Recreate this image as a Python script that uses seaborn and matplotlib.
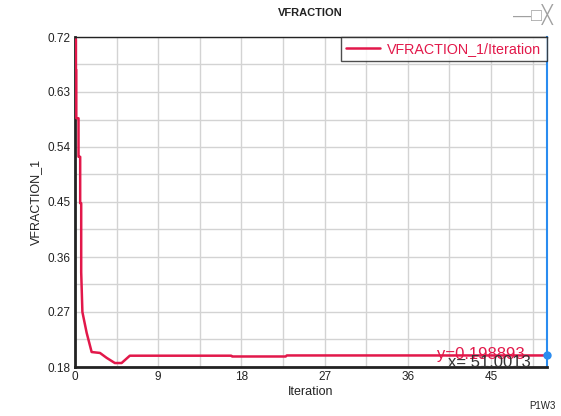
import matplotlib
matplotlib.use("Agg")
import matplotlib.pyplot as plt
import seaborn as sns
import pandas as pd
from matplotlib.ticker import MultipleLocator

# data
iteration = [0.10, 0.10, 0.14, 0.14, 0.38, 0.38, 0.56, 0.56, 0.67, 0.67, 0.80,
             1.26, 1.80, 2.70, 3.42, 4.31, 5.04, 5.93, 16.9, 17.0, 22.8, 22.9, 51.0013]
vfraction = [0.716, 0.666, 0.666, 0.587, 0.587, 0.524, 0.524, 0.448, 0.448, 0.335, 0.270,
             0.236, 0.2045, 0.203, 0.195, 0.1865, 0.1865, 0.1985, 0.1985, 0.1972, 0.1972,
             0.198893, 0.198893]
y_ticks = [0.18, 0.27, 0.36, 0.45, 0.54, 0.63, 0.72]
x_ticks = [0, 9, 18, 27, 36, 45]
cursor_x = 51.0013
cursor_y = 0.198893

df = pd.DataFrame({"Iteration": iteration, "VFRACTION_1": vfraction})

sns.set_style("white")
plt.rcParams["font.family"] = ["Liberation Sans", "DejaVu Sans"]

fig = plt.figure(figsize=(5.61, 4.16), dpi=100)
ax = fig.add_axes([75 / 561, 1 - 367 / 416, (546.5 - 75) / 561, (367 - 37) / 416])

red = "#e2184a"
sns.lineplot(data=df, x="Iteration", y="VFRACTION_1", sort=False, estimator=None,
             color=red, linewidth=1.8, ax=ax, label="VFRACTION_1/Iteration",
             zorder=3)

ax.set_xlim(0, cursor_x)
ax.set_ylim(0.18, 0.72)
ax.set_xticks(x_ticks)
ax.set_yticks(y_ticks)
ax.set_yticklabels([f"{v:.2f}" for v in y_ticks])
ax.xaxis.set_minor_locator(MultipleLocator(4.5))
ax.yaxis.set_minor_locator(MultipleLocator(0.045))
ax.grid(True, which="both", color="#d3d3d3", linewidth=1)
ax.set_axisbelow(True)
ax.tick_params(axis="both", which="major", direction="in", length=4, width=1,
               labelsize=8.5, colors="#222222", pad=3)
ax.tick_params(axis="both", which="minor", length=0)

for side in ["left", "bottom"]:
    ax.spines[side].set_color("#222222")
    ax.spines[side].set_linewidth(2)
ax.spines["top"].set_color("#222222")
ax.spines["top"].set_linewidth(1)
ax.spines["right"].set_color("#2a8cf0")
ax.spines["right"].set_linewidth(1.5)

# cursor marker and readout
ax.plot([cursor_x], [cursor_y], marker="o", color="#2a8cf0", markersize=5,
        clip_on=False, zorder=5)
ax.text(39.2, 0.2005, f"y={cursor_y:.6f}", color=red, fontsize=12, va="center")
ax.text(40.4, 0.1875, f"x= {cursor_x:.4f}", color="#333333", fontsize=12, va="center")

ax.set_xlabel("Iteration", fontsize=9, color="#222222", labelpad=2)
ax.set_ylabel("VFRACTION_1", fontsize=9, color="#222222", labelpad=4)

leg = ax.legend(loc="upper right", borderaxespad=0, frameon=True, fancybox=False,
                fontsize=10.3, handlelength=2.4, handletextpad=0.5, borderpad=0.35)
leg.get_frame().set_edgecolor("#222222")
leg.get_frame().set_linewidth(1)
for t in leg.get_texts():
    t.set_color(red)

fig.text(310 / 561, 1 - 13 / 416, "VFRACTION", ha="center", va="center",
         fontsize=8, fontweight="bold", color="#222222")
fig.text(553 / 561, 1 - 14 / 416, "\u2014\u25a1\u2573", ha="right", va="center",
         fontsize=13, color="#a0a0a0")
fig.text(556 / 561, 1 - 406 / 416, "P1W3", ha="right", va="center",
         fontsize=7, color="#222222")

fig.savefig("out.png", dpi=100)
